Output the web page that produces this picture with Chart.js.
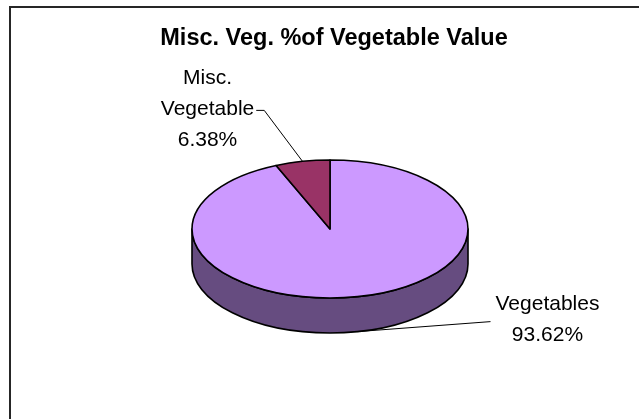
<!DOCTYPE html>
<html>
<head>
<meta charset="utf-8">
<script src="https://cdn.jsdelivr.net/npm/chart.js@4.4.1/dist/chart.umd.min.js"></script>
<style>
html,body{margin:0;padding:0;background:#fff;overflow:hidden}
#wrap{width:639px;height:419px;position:relative}
</style>
</head>
<body>
<div id="wrap"><canvas id="c" width="639" height="419"></canvas></div>
<script>
// ---- data ----
const chartTitle = 'Misc. Veg. %of Vegetable Value';
const categories = ['Vegetables', 'Misc. Vegetable'];
const labelLines = [['Vegetables'], ['Misc.', 'Vegetable']];
const values = [93.62, 6.38];
const topColors = ['#CC99FF', '#993366'];
const sideColors = ['#664C80', '#4D1A33'];

// ---- 3D look ----
const TILT = 0.5;      // vertical squash of the pie
const DEPTH = 35;      // thickness of the pie in px
const LABEL_FONT = '21px "Liberation Sans", Arial, sans-serif';
const TITLE_FONT = 'bold 23.5px "Liberation Sans", Arial, sans-serif';
const LINE_H = 31;
const labelOffset = [[190, -12], [-95, -52]];

function arcGeom(arc) {
  return arc.getProps(['x', 'y', 'startAngle', 'endAngle', 'outerRadius'], true);
}

const pie3d = {
  id: 'pie3d',
  beforeDraw(chart) {
    const ctx = chart.ctx;
    ctx.save();
    ctx.fillStyle = '#fff';
    ctx.fillRect(0, 0, chart.width, chart.height);
    ctx.strokeStyle = '#262626';
    ctx.lineWidth = 2;
    ctx.strokeRect(10, 7, chart.width + 40, chart.height + 40);
    ctx.restore();
  },
  beforeDatasetsDraw(chart) {
    const ctx = chart.ctx;
    const arcs = chart.getDatasetMeta(0).data;
    ctx.save();
    ctx.lineWidth = 1.6;
    ctx.strokeStyle = '#000';
    ctx.lineJoin = 'round';
    // side walls (front half only)
    arcs.forEach((arc, i) => {
      const g = arcGeom(arc);
      const rx = g.outerRadius, ry = rx * TILT;
      for (let k = -1; k <= 1; k++) {
        const lo = Math.max(g.startAngle, k * 2 * Math.PI);
        const hi = Math.min(g.endAngle, k * 2 * Math.PI + Math.PI);
        if (hi > lo) {
          ctx.beginPath();
          ctx.ellipse(g.x, g.y, rx, ry, 0, lo, hi, false);
          ctx.ellipse(g.x, g.y + DEPTH, rx, ry, 0, hi, lo, true);
          ctx.closePath();
          ctx.fillStyle = sideColors[i];
          ctx.fill();
          ctx.stroke();
        }
      }
    });
    // top faces
    arcs.forEach((arc, i) => {
      const g = arcGeom(arc);
      const rx = g.outerRadius, ry = rx * TILT;
      ctx.beginPath();
      ctx.moveTo(g.x, g.y);
      ctx.ellipse(g.x, g.y, rx, ry, 0, g.startAngle, g.endAngle, false);
      ctx.closePath();
      ctx.fillStyle = topColors[i];
      ctx.fill();
      ctx.stroke();
    });
    ctx.restore();
    return false;
  },
  afterDraw(chart) {
    const ctx = chart.ctx;
    const arcs = chart.getDatasetMeta(0).data;
    const total = values.reduce((a, b) => a + b, 0);
    ctx.save();
    // title
    ctx.font = TITLE_FONT;
    ctx.fillStyle = '#000';
    ctx.textAlign = 'center';
    ctx.textBaseline = 'alphabetic';
    const ca = chart.chartArea;
    ctx.fillText(chartTitle, (ca.left + ca.right) / 2 + 4, 45);
    // slice labels
    ctx.font = LABEL_FONT;
    ctx.textBaseline = 'middle';
    arcs.forEach((arc, i) => {
      const g = arcGeom(arc);
      const rx = g.outerRadius, ry = rx * TILT;
      const mid = (g.startAngle + g.endAngle) / 2;
      const ax = g.x + rx * Math.cos(mid);
      let ay = g.y + ry * Math.sin(mid);
      if (Math.sin(mid) > 0) ay += DEPTH;
      const lines = labelLines[i].concat([(values[i] / total * 100).toFixed(2) + '%']);
      const bx = ax + labelOffset[i][0];
      const by = ay + labelOffset[i][1];
      const w = Math.max(...lines.map(t => ctx.measureText(t).width));
      ctx.strokeStyle = '#000';
      ctx.lineWidth = 1;
      ctx.beginPath();
      ctx.moveTo(ax, ay);
      if (bx < ax) {
        const rEdge = bx + w / 2;
        ctx.lineTo(rEdge + 10, by + 1);
        ctx.lineTo(rEdge + 2, by + 1);
      } else {
        const lEdge = bx - w / 2;
        ctx.lineTo(lEdge - 5, by + 2);
      }
      ctx.stroke();
      const n = lines.length;
      lines.forEach((t, j) => {
        ctx.fillText(t, bx, by + (j - (n - 1) / 2) * LINE_H);
      });
    });
    ctx.restore();
  }
};

new Chart(document.getElementById('c'), {
  type: 'pie',
  data: {
    labels: categories,
    datasets: [{
      data: values,
      backgroundColor: topColors,
      borderWidth: 0,
      hoverOffset: 0
    }]
  },
  options: {
    responsive: false,
    animation: false,
    rotation: 0,
    layout: { padding: { left: 192, right: 171, top: 91, bottom: 52 } },
    plugins: {
      legend: { display: false },
      tooltip: { enabled: false },
      title: { display: false }
    }
  },
  plugins: [pie3d]
});
</script>
</body>
</html>
